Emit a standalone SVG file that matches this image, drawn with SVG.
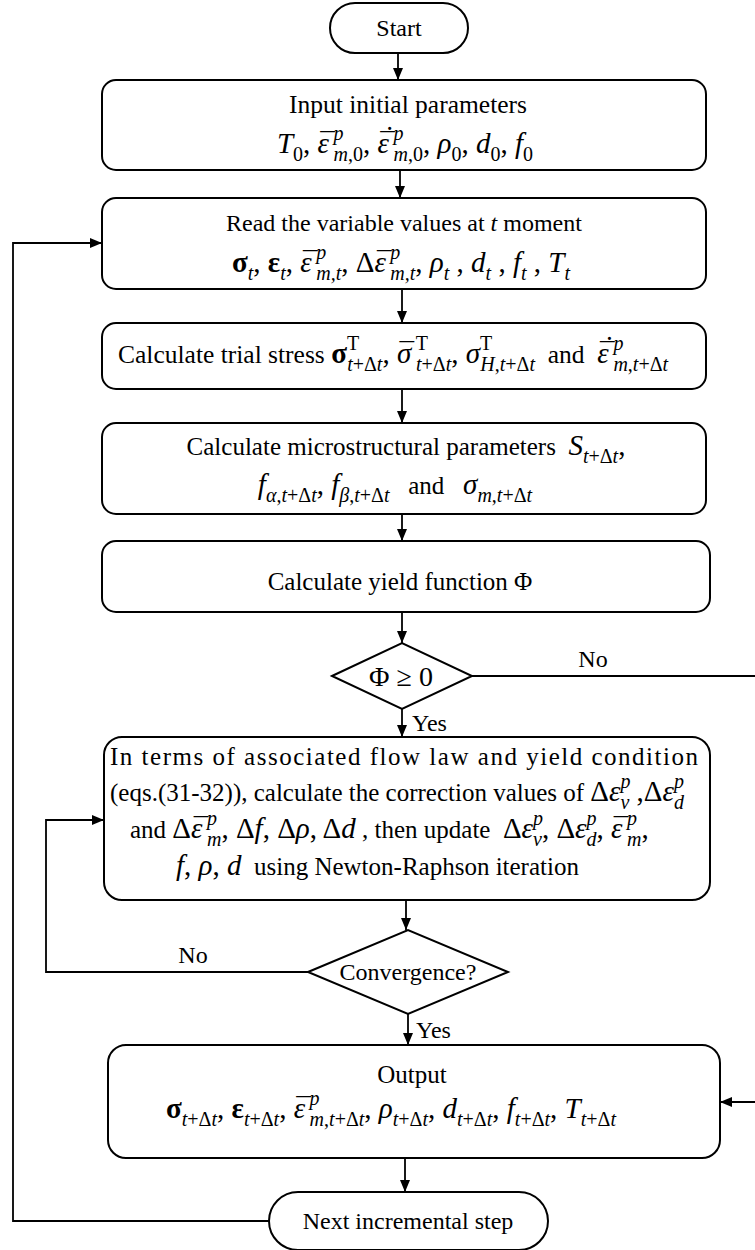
<svg xmlns="http://www.w3.org/2000/svg" width="755" height="1250" viewBox="0 0 755 1250">
<style>
.f{font-family:"Liberation Serif","Times New Roman",serif;fill:#000}
.tx{font-size:25px}
.m{font-size:29px}
.s{font-size:20px}
.i{font-style:italic}
.b{font-weight:bold}
.box{fill:#fff;stroke:#000;stroke-width:2}
.ln{fill:none;stroke:#000;stroke-width:1.8}
</style>
<defs>
<marker id="ah" viewBox="0 0 12 10" refX="12" refY="5" markerWidth="12" markerHeight="10" markerUnits="userSpaceOnUse" orient="auto"><path d="M0,0 L12,5 L0,10 z" fill="#000"/></marker>
</defs>
<rect width="755" height="1250" fill="#fff"/>
<g id="connectors">
<line class="ln" x1="398" y1="53" x2="398" y2="80" marker-end="url(#ah)"/>
<line class="ln" x1="400" y1="170" x2="400" y2="198" marker-end="url(#ah)"/>
<line class="ln" x1="402" y1="289" x2="402" y2="323" marker-end="url(#ah)"/>
<line class="ln" x1="402" y1="389" x2="402" y2="423" marker-end="url(#ah)"/>
<line class="ln" x1="402" y1="514" x2="402" y2="541" marker-end="url(#ah)"/>
<line class="ln" x1="402" y1="612" x2="402" y2="643" marker-end="url(#ah)"/>
<line class="ln" x1="402" y1="709" x2="402" y2="737" marker-end="url(#ah)"/>
<line class="ln" x1="406" y1="900" x2="406" y2="930" marker-end="url(#ah)"/>
<line class="ln" x1="408" y1="1014" x2="408" y2="1045" marker-end="url(#ah)"/>
<line class="ln" x1="405" y1="1158" x2="405" y2="1192" marker-end="url(#ah)"/>
<path class="ln" d="M472,676 H758 V1102 H720" marker-end="url(#ah)"/>
<path class="ln" d="M308,972 H46 V820 H104" marker-end="url(#ah)"/>
<path class="ln" d="M269,1221 H13 V243 H102" marker-end="url(#ah)"/>
<text class="f" font-size="24" x="593" y="667" text-anchor="middle">No</text>
<text class="f" font-size="24" x="412" y="731">Yes</text>
<text class="f" font-size="24" x="193" y="963" text-anchor="middle">No</text>
<text class="f" font-size="24" x="416" y="1038">Yes</text>
</g>
<g id="start">
<rect class="box" x="330" y="3" width="138" height="50" rx="25"/>
<text class="f" font-size="24" x="399" y="36" text-anchor="middle">Start</text>
</g>
<g id="input">
<rect class="box" x="102" y="80" width="604" height="90" rx="14"/>
<text class="f" font-size="25.5" x="408" y="113" text-anchor="middle">Input initial parameters</text>
<text class="f m" x="405" y="153" text-anchor="middle"><tspan class="i">T</tspan><tspan class="s" dy="8">0</tspan><tspan dy="-8">, </tspan><tspan class="i">ε</tspan><tspan class="i" dx="-11">¯</tspan><tspan class="s i" dx="1" dy="-13">p</tspan><tspan class="s i" dx="-10" dy="21">m</tspan><tspan class="s">,0</tspan><tspan dy="-8">, </tspan><tspan class="i">ε</tspan><tspan class="i" dx="-11">¯</tspan><tspan class="i" dx="-9.5" dy="-6">˙</tspan><tspan class="s i" dx="1" dy="-7">p</tspan><tspan class="s i" dx="-10" dy="21">m</tspan><tspan class="s">,0</tspan><tspan dy="-8">, </tspan><tspan class="i">ρ</tspan><tspan class="s" dy="8">0</tspan><tspan dy="-8">, </tspan><tspan class="i">d</tspan><tspan class="s" dy="8">0</tspan><tspan dy="-8">, </tspan><tspan class="i">f</tspan><tspan class="s" dy="8">0</tspan></text>
</g>
<g id="read">
<rect class="box" x="102" y="198" width="604" height="91" rx="14"/>
<text class="f" font-size="24" x="404" y="231" text-anchor="middle">Read the variable values at <tspan class="i">t</tspan> moment</text>
<text class="f m" x="401" y="272" text-anchor="middle"><tspan class="b">σ</tspan><tspan class="s i" dy="8">t</tspan><tspan dy="-8">, </tspan><tspan class="b">ε</tspan><tspan class="s i" dy="8">t</tspan><tspan dy="-8">, </tspan><tspan class="i">ε</tspan><tspan class="i" dx="-11">¯</tspan><tspan class="s i" dx="1" dy="-13">p</tspan><tspan class="s i" dx="-10" dy="21">m,t</tspan><tspan dy="-8">, Δ</tspan><tspan class="i">ε</tspan><tspan class="i" dx="-11">¯</tspan><tspan class="s i" dx="1" dy="-13">p</tspan><tspan class="s i" dx="-10" dy="21">m,t</tspan><tspan dy="-8">, </tspan><tspan class="i">ρ</tspan><tspan class="s i" dy="8">t</tspan><tspan dy="-8"> , </tspan><tspan class="i">d</tspan><tspan class="s i" dy="8">t</tspan><tspan dy="-8"> , </tspan><tspan class="i">f</tspan><tspan class="s i" dy="8">t</tspan><tspan dy="-8"> , </tspan><tspan class="i">T</tspan><tspan class="s i" dy="8">t</tspan></text>
</g>
<g id="trial">
<rect class="box" x="102" y="323" width="604" height="66" rx="14"/>
<text class="f" font-size="25.5" x="118" y="363">Calculate trial stress <tspan class="m b">σ</tspan><tspan class="s" dy="-13">T</tspan><tspan class="s i" dx="-12" dy="21">t</tspan><tspan class="s">+Δ</tspan><tspan class="s i">t</tspan><tspan class="m" dy="-8">, </tspan><tspan class="m i">σ</tspan><tspan class="m i" dx="-14">¯</tspan><tspan class="s" dx="4" dy="-13">T</tspan><tspan class="s i" dx="-12" dy="21">t</tspan><tspan class="s">+Δ</tspan><tspan class="s i">t</tspan><tspan class="m" dy="-8">, </tspan><tspan class="m i">σ</tspan><tspan class="s" dy="-13">T</tspan><tspan class="s i" dx="-12" dy="21">H</tspan><tspan class="s">,</tspan><tspan class="s i">t</tspan><tspan class="s">+Δ</tspan><tspan class="s i">t</tspan><tspan dy="-8">&#160; and&#160; </tspan><tspan class="m i">ε</tspan><tspan class="m i" dx="-11">¯</tspan><tspan class="m i" dx="-9.5" dy="-6">˙</tspan><tspan class="s i" dx="1" dy="-7">p</tspan><tspan class="s i" dx="-10" dy="21">m</tspan><tspan class="s">,</tspan><tspan class="s i">t</tspan><tspan class="s">+Δ</tspan><tspan class="s i">t</tspan></text>
</g>
<g id="micro">
<rect class="box" x="102" y="423" width="604" height="91" rx="14"/>
<text class="f tx" x="406" y="455" text-anchor="middle">Calculate microstructural parameters&#160; <tspan class="m i">S</tspan><tspan class="s i" dy="8">t</tspan><tspan class="s">+Δ</tspan><tspan class="s i">t</tspan><tspan class="m" dy="-8">,</tspan></text>
<text class="f m" x="395" y="494" text-anchor="middle"><tspan class="i">f</tspan><tspan class="s i" dy="8">α</tspan><tspan class="s">,</tspan><tspan class="s i">t</tspan><tspan class="s">+Δ</tspan><tspan class="s i">t</tspan><tspan dy="-8">, </tspan><tspan class="i">f</tspan><tspan class="s i" dy="8">β</tspan><tspan class="s">,</tspan><tspan class="s i">t</tspan><tspan class="s">+Δ</tspan><tspan class="s i">t</tspan><tspan class="tx" dy="-8">&#160;&#160; and&#160;&#160; </tspan><tspan class="i">σ</tspan><tspan class="s i" dy="8">m</tspan><tspan class="s">,</tspan><tspan class="s i">t</tspan><tspan class="s">+Δ</tspan><tspan class="s i">t</tspan></text>
</g>
<g id="yield">
<rect class="box" x="102" y="541" width="608" height="71" rx="14"/>
<text class="f tx" x="400" y="590" text-anchor="middle">Calculate yield function Φ</text>
</g>
<g id="check-yield">
<polygon class="box" points="332,676 402,643 472,676 402,709"/>
<text class="f" font-size="28" x="401" y="686" text-anchor="middle">Φ ≥ 0</text>
</g>
<g id="newton">
<rect class="box" x="104" y="737" width="606" height="163" rx="18"/>
<text class="f tx" x="110" y="765" textLength="588" lengthAdjust="spacing">In terms of associated flow law and yield condition</text>
<text class="f tx" x="110" y="801">(eqs.(31-32)), calculate the correction values of <tspan class="m">Δ</tspan><tspan class="m i">ε</tspan><tspan class="s i" dy="-13">p</tspan><tspan class="s i" dx="-10" dy="21">v</tspan><tspan class="m" dy="-8"> ,Δ</tspan><tspan class="m i">ε</tspan><tspan class="s i" dy="-13">p</tspan><tspan class="s i" dx="-10" dy="21">d</tspan></text>
<text class="f tx" x="130" y="838">and <tspan class="m">Δ</tspan><tspan class="m i">ε</tspan><tspan class="m i" dx="-11">¯</tspan><tspan class="s i" dx="1" dy="-13">p</tspan><tspan class="s i" dx="-10" dy="21">m</tspan><tspan class="m" dy="-8">, Δ</tspan><tspan class="m i">f</tspan><tspan class="m">, Δ</tspan><tspan class="m i">ρ</tspan><tspan class="m">, Δ</tspan><tspan class="m i">d</tspan> , then update&#160; <tspan class="m">Δ</tspan><tspan class="m i">ε</tspan><tspan class="s i" dy="-13">p</tspan><tspan class="s i" dx="-10" dy="21">v</tspan><tspan class="m" dy="-8">, Δ</tspan><tspan class="m i">ε</tspan><tspan class="s i" dy="-13">p</tspan><tspan class="s i" dx="-10" dy="21">d</tspan><tspan class="m" dy="-8">, </tspan><tspan class="m i">ε</tspan><tspan class="m i" dx="-11">¯</tspan><tspan class="s i" dx="1" dy="-13">p</tspan><tspan class="s i" dx="-10" dy="21">m</tspan><tspan class="m" dy="-8">,</tspan></text>
<text class="f tx" x="176" y="875"><tspan class="m i">f</tspan><tspan class="m">, </tspan><tspan class="m i">ρ</tspan><tspan class="m">, </tspan><tspan class="m i">d</tspan>&#160; using Newton-Raphson iteration</text>
</g>
<g id="check-convergence">
<polygon class="box" points="308,972 408,930 508,972 408,1014"/>
<text class="f" font-size="24" x="408" y="980" text-anchor="middle">Convergence?</text>
</g>
<g id="output">
<rect class="box" x="108" y="1045" width="612" height="113" rx="18"/>
<text class="f tx" x="412" y="1083" text-anchor="middle">Output</text>
<text class="f m" x="391" y="1118" text-anchor="middle"><tspan class="b">σ</tspan><tspan class="s i" dy="8">t</tspan><tspan class="s">+Δ</tspan><tspan class="s i">t</tspan><tspan dy="-8">, </tspan><tspan class="b">ε</tspan><tspan class="s i" dy="8">t</tspan><tspan class="s">+Δ</tspan><tspan class="s i">t</tspan><tspan dy="-8">, </tspan><tspan class="i">ε</tspan><tspan class="i" dx="-11">¯</tspan><tspan class="s i" dx="1" dy="-13">p</tspan><tspan class="s i" dx="-10" dy="21">m</tspan><tspan class="s">,</tspan><tspan class="s i">t</tspan><tspan class="s">+Δ</tspan><tspan class="s i">t</tspan><tspan dy="-8">, </tspan><tspan class="i">ρ</tspan><tspan class="s i" dy="8">t</tspan><tspan class="s">+Δ</tspan><tspan class="s i">t</tspan><tspan dy="-8">, </tspan><tspan class="i">d</tspan><tspan class="s i" dy="8">t</tspan><tspan class="s">+Δ</tspan><tspan class="s i">t</tspan><tspan dy="-8">, </tspan><tspan class="i">f</tspan><tspan class="s i" dy="8">t</tspan><tspan class="s">+Δ</tspan><tspan class="s i">t</tspan><tspan dy="-8">, </tspan><tspan class="i">T</tspan><tspan class="s i" dy="8">t</tspan><tspan class="s">+Δ</tspan><tspan class="s i">t</tspan></text>
</g>
<g id="next-step">
<rect class="box" x="269" y="1192" width="279" height="58" rx="29"/>
<text class="f" font-size="24" x="408" y="1229" text-anchor="middle">Next incremental step</text>
</g>
</svg>
